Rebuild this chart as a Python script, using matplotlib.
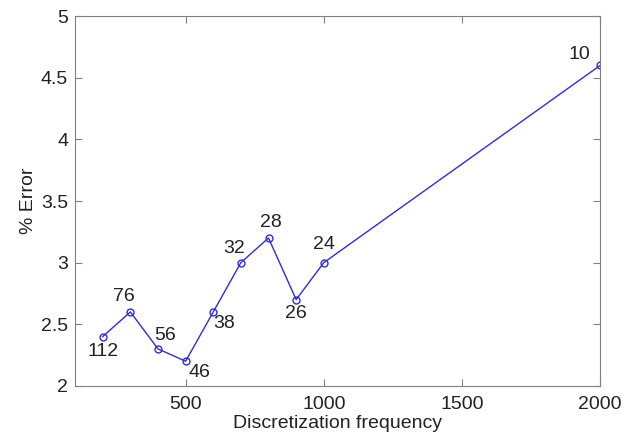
import matplotlib
matplotlib.use("Agg")
import matplotlib.pyplot as plt

# data
freq = [200, 300, 400, 500, 600, 700, 800, 900, 1000, 2000]
error = [2.4, 2.6, 2.3, 2.2, 2.6, 3.0, 3.2, 2.7, 3.0, 4.6]
labels = ["112", "76", "56", "46", "38", "32", "28", "26", "24", "10"]

# label offsets in points (dx, dy)
offsets = [(0, -11), (-5, 11), (5, 10), (10, -8), (8, -8),
           (-5, 10), (2, 11), (0, -10), (0, 13), (-15, 8)]

plt.rcParams["font.family"] = ["Liberation Sans", "DejaVu Sans"]

fig = plt.figure(figsize=(6.31, 4.37), dpi=100)
ax = fig.add_axes([0.119, 0.117, 0.832, 0.846])

ax.plot(freq, error, color="#2f2fd0", linewidth=1.0, marker="o",
        markersize=5, markerfacecolor="none", markeredgewidth=1.0)

for x, y, t, (dx, dy) in zip(freq, error, labels, offsets):
    ax.annotate(t, (x, y), xytext=(dx, dy), textcoords="offset points",
                ha="center", va="center", fontsize=14, color="#222222")

ax.set_xlim(100, 2000)
ax.set_ylim(2, 5)
ax.set_xticks([500, 1000, 1500, 2000])
ax.set_yticks([2, 2.5, 3, 3.5, 4, 4.5, 5])
ax.set_yticklabels(["2", "2.5", "3", "3.5", "4", "4.5", "5"])
ax.tick_params(direction="in", length=5, labelsize=14, colors="#222222",
               top=True, right=True)
ax.tick_params(axis="x", pad=7)
ax.tick_params(axis="y", pad=5)
for s in ax.spines.values():
    s.set_color("#808080")
ax.tick_params(axis="both", which="both", color="#808080")

ax.set_xlabel("Discretization frequency", fontsize=14, color="#222222", labelpad=2)
ax.set_ylabel("% Error", fontsize=14, color="#222222", labelpad=3)

fig.savefig("out.png", dpi=100)
